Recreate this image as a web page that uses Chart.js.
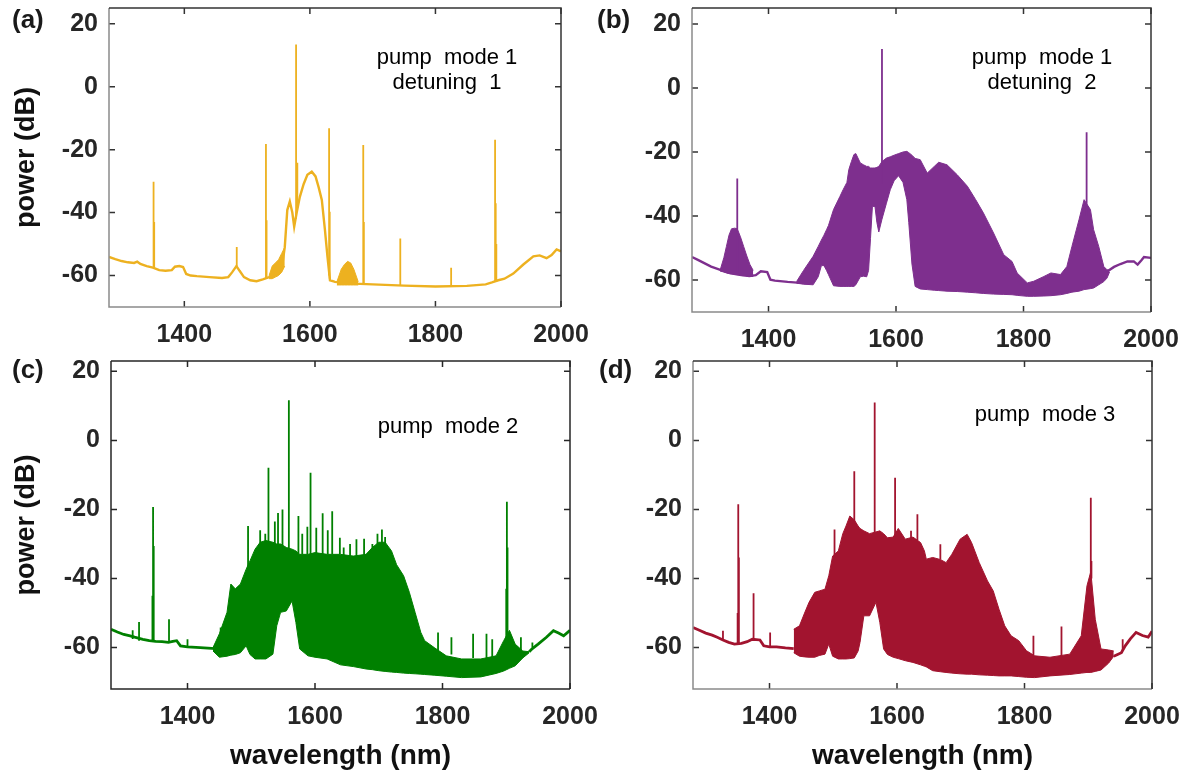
<!DOCTYPE html>
<html lang="en">
<head>
<meta charset="utf-8">
<title>Comb spectra</title>
<script src="https://cdn.jsdelivr.net/npm/chart.js@4.4.1/dist/chart.umd.min.js"></script>
<style>
  html, body { margin: 0; padding: 0; background: #ffffff; }
  body { position: relative; width: 1191px; height: 773px; overflow: hidden;
         font-family: "Liberation Sans", Arial, sans-serif; }
  canvas { position: absolute; }
  .tag { position: absolute; font-size: 26px; font-weight: bold; color: #1a1a1a; line-height: 26px; }
  .note { position: absolute; width: 220px; font-size: 22px; color: #000000; line-height: 25px;
          text-align: center; white-space: pre; }
</style>
</head>
<body>
<canvas id="chartA" width="595" height="360" style="left:0;top:0"></canvas>
<canvas id="chartB" width="596" height="360" style="left:595px;top:0"></canvas>
<canvas id="chartC" width="605" height="413" style="left:0;top:360px"></canvas>
<canvas id="chartD" width="586" height="413" style="left:605px;top:360px"></canvas>

<div class="tag" style="left:12px;top:6px">(a)</div>
<div class="tag" style="left:597px;top:6px">(b)</div>
<div class="tag" style="left:12px;top:356px">(c)</div>
<div class="tag" style="left:599px;top:356px">(d)</div>

<div class="note" style="left:337px;top:44px">pump  mode 1
detuning  1</div>
<div class="note" style="left:932px;top:44px">pump  mode 1
detuning  2</div>
<div class="note" style="left:338px;top:413px">pump  mode 2</div>
<div class="note" style="left:935px;top:401px">pump  mode 3</div>

<script>
// Shared axis ticks and wavelength span (nm)
const X_TICKS = [1400, 1600, 1800, 2000];
const Y_TICKS = [20, 0, -20, -40, -60];
const X_RANGE = [1280, 2000];

// ---------- (a) pump mode 1, detuning 1 ----------
// noise floor and continuum, [wavelength, dB]
const floorA = [
  [1280,-54.1],[1290,-54.8],[1300,-55.4],[1310,-55.8],[1320,-56.0],[1325,-55.6],[1330,-56.3],
  [1340,-57.0],[1350,-57.5],[1360,-58.3],[1370,-58.5],[1380,-58.3],[1385,-57.2],[1392,-57.0],
  [1398,-57.3],[1403,-59.5],[1410,-60.0],[1420,-60.2],[1440,-60.5],[1460,-60.8],[1470,-60.5],
  [1476,-59.0],[1483,-57.0],[1488,-58.5],[1495,-60.5],[1505,-61.5],[1515,-61.8],[1525,-61.2],
  [1535,-60.5],[1545,-59.5],[1555,-58.0],[1560,-51.0],[1564,-39.2],[1568,-36.5],[1572,-40.0],
  [1575,-44.5],[1579,-40.0],[1584,-35.0],[1590,-31.0],[1596,-28.0],[1603,-27.0],[1609,-28.5],
  [1614,-32.0],[1619,-36.0],[1624,-45.6],[1628,-54.0],[1632,-61.5],[1640,-62.0],[1660,-62.5],
  [1700,-62.8],[1750,-63.2],[1800,-63.5],[1850,-63.3],[1880,-62.8],[1890,-62.2],[1900,-61.5],
  [1910,-61.0],[1924,-59.4],[1940,-56.5],[1956,-53.9],[1966,-53.6],[1977,-54.5],[1985,-53.5],
  [1993,-51.7],[2000,-52.3]
];
// comb bands, [wavelength, upper dB, lower dB]
const combA1 = [[1535,-60,-61],[1540,-57,-61],[1545,-56,-60.5],[1550,-55,-60],[1555,-53,-59],[1560,-51,-57]];
const combA2 = [[1643,-62,-63],[1650,-58,-63],[1655,-56.5,-63],[1660,-55.5,-63],[1665,-56,-63],[1670,-58,-63],[1677,-62,-63]];
// discrete lines, [wavelength, peak dB, base dB]
const spikesA = [
  [1351,-30.2,-57.5],[1352,-43,-57.5],[1483.5,-50.9,-57],[1530,-18.2,-61],[1531,-42.4,-61],
  [1578,13.4,-42],[1580,-24.2,-38],[1630.6,-13.2,-60],[1631.6,-39.7,-61],[1685,-18.5,-62.5],
  [1686,-43,-62.5],[1744,-48.2,-63],[1825,-57.5,-63.5],[1895,-16.9,-62],[1896,-37,-62],[1897,-50,-62]
];

// ---------- (b) pump mode 1, detuning 2 ----------
const floorB1 = [
  [1280,-52.8],[1290,-53.8],[1300,-54.8],[1310,-55.8],[1320,-56.5],[1330,-57.2],[1340,-57.8],
  [1350,-58.2],[1360,-58.5],[1370,-58.8],[1380,-58.5],[1388,-57.3],[1398,-57.5],[1403,-59.9],
  [1410,-60.2],[1430,-60.6],[1450,-60.9],[1465,-61.0]
];
const floorB2 = [
  [1930,-57.5],[1942,-55.9],[1952,-55.0],[1963,-54.2],[1973,-54.2],[1979,-55.2],[1985,-53.8],
  [1989,-52.8],[2000,-53.1]
];
const combB1 = [
  [1324,-57,-57.2],[1330,-53,-57.5],[1334,-49.5,-57.8],[1338,-46,-58],[1342,-44,-58.1],
  [1347,-43.8,-58.2],[1351,-44,-58.3],[1356,-46.5,-58.4],[1361,-49.5,-58.5],[1366,-52.5,-58.7],
  [1371,-55.2,-58.8],[1376,-57,-58.9]
];
const combB2 = [
  [1444,-60.5,-61],[1455,-57,-61.3],[1470,-52.6,-61.5],[1478,-49.5,-59],[1483,-47.5,-55.5],
  [1487,-46,-55.5],[1491,-44.3,-57],[1494,-43,-58.3],[1502,-38,-61.8],[1512,-33.9,-62],
  [1517,-31.8,-62],[1523,-29.5,-62],[1526,-25.5,-62],[1530,-23,-62],[1534,-20.8,-62],
  [1537,-20.5,-61.5],[1544,-23.4,-59],[1549,-24,-58.8],[1554,-24.5,-59],[1557,-24.5,-57],
  [1560,-25,-47],[1563,-25,-37],[1567,-25,-37],[1570,-24.8,-42],[1573,-24.5,-45],
  [1578,-23,-41],[1585,-21.9,-36],[1591,-21.5,-31.8],[1597,-21,-29],[1604,-20.5,-27.4],
  [1611,-20,-29.5],[1617,-19.8,-34.9],[1620,-20.2,-42],[1625,-21,-55],[1630,-22,-62],
  [1638,-22.4,-62.8],[1649,-26.6,-63],[1660,-24.5,-63.2],[1667,-23.2,-63.3],[1680,-24,-63.5],
  [1696,-27.1,-63.6],[1712,-30.7,-63.8],[1725,-34.9,-64],[1737,-39,-64.2],[1753,-45.3,-64.4],
  [1769,-52.1,-64.5],[1782,-54.2,-64.6],[1790,-57.8,-64.8],[1806,-60.9,-65.1],[1816,-60.4,-65.1],
  [1832,-58.9,-65],[1843,-57.8,-64.9],[1858,-58.3,-64.6],[1868,-55.8,-64.2],[1876,-49.5,-63.8],
  [1887,-41.2,-63.5],[1895,-34.9,-63],[1905,-38,-62.7],[1910,-44.3,-62.5],[1918,-49.5,-61.5],
  [1926,-55.8,-60.5],[1931,-56.8,-59.4],[1935,-57,-57.5]
];
const spikesB = [[1351,-28.3,-58],[1578,12.2,-30],[1899,-13.8,-40]];

// ---------- (c) pump mode 2 ----------
const floorC1 = [
  [1280,-54.7],[1290,-55.5],[1300,-56.2],[1310,-56.6],[1317,-57],[1330,-57.6],[1340,-58],
  [1350,-58.2],[1360,-58.3],[1370,-58.5],[1377,-58.2],[1383,-58],[1389,-59.5],[1400,-59.8],
  [1420,-60],[1444,-60.3]
];
const floorC2 = [
  [1936,-61.2],[1941,-60.3],[1950,-59],[1963,-57],[1974,-55.1],[1982,-55.8],[1990,-56.6],[2000,-55]
];
const combC = [
  [1440,-60,-61],[1450,-56,-62.8],[1462,-49.8,-62.5],[1468,-41.6,-62.2],[1475,-43,-62],
  [1483,-41.6,-61.5],[1492,-37.3,-59.5],[1498,-34.9,-62],[1506,-31.5,-63.3],[1514,-29.5,-63.3],
  [1523,-29,-63.3],[1534,-29.5,-61.9],[1540,-30,-53.7],[1546,-30,-49.8],[1555,-31,-49.4],
  [1564,-31.5,-46.5],[1570,-32,-52.7],[1576,-33,-60.4],[1589,-33,-62.4],[1600,-32.5,-62.8],
  [1619,-33,-63.3],[1640,-33,-65],[1660,-33.5,-65.5],[1680,-33,-66.2],[1690,-31,-66.4],
  [1700,-29.5,-66.7],[1710,-29.5,-66.9],[1720,-32,-67.1],[1728,-36,-67.2],[1739,-39.2,-67.4],
  [1748,-44,-67.5],[1757,-49.8,-67.6],[1766,-55.6,-67.7],[1772,-58,-67.8],[1787,-60,-68],
  [1806,-62.4,-68.3],[1830,-63.3,-68.7],[1860,-63.3,-68.5],[1884,-62.4,-67.5],[1896,-58,-66.8],
  [1905,-55,-66],[1914,-59,-65.3],[1926,-61,-63],[1936,-61.2,-61.5]
];
const spikesC = [
  [1314,-55,-57.5],[1324,-52.6,-58],[1345,-45,-58],[1346,-19.3,-58],[1347,-30.6,-58],
  [1371,-51.8,-58.5],[1400,-57.6,-60],[1452,-54.2,-60],[1495,-24.8,-40],[1514,-26,-32],
  [1522,-27,-32],[1527,-7.9,-32],[1537,-23.5,-32],[1542,-21,-32],[1549,-20,-32],[1559,11.6,-32],
  [1574,-21.9,-33],[1580,-27,-33],[1588,-25,-33],[1593,-9.4,-33],[1602,-25.3,-33],
  [1612,-21.1,-33],[1620,-26,-33],[1627,-20.5,-33],[1639,-28.2,-33],[1645,-31,-34],
  [1655,-30,-34],[1665,-28.6,-34],[1677,-28.5,-34],[1690,-30,-32],[1698,-27,-31],
  [1705,-25.8,-30],[1710,-28,-30],[1793,-55.6,-61],[1814,-57,-62],[1848,-56,-63],
  [1869,-56,-63],[1878,-57.6,-63],[1900,-43,-58],[1901,-17.8,-58],[1902,-31,-58],
  [1923,-57,-61],[1941,-58.5,-60]
];

// ---------- (d) pump mode 3 ----------
const floorD1 = [
  [1280,-54.2],[1290,-55],[1300,-55.8],[1310,-56.4],[1318,-57],[1327,-57.8],[1336,-58.5],
  [1345,-59],[1356,-58.8],[1365,-58.3],[1373,-57.6],[1385,-57.8],[1391,-59.5],[1400,-59.8],
  [1411,-59.8],[1425,-60.1],[1438,-60.3]
];
const floorD2 = [
  [1940,-62.5],[1946,-62],[1952,-61.5],[1958,-59.5],[1966,-57.5],[1975,-55.6],[1985,-56.5],
  [1994,-57],[2000,-55.3]
];
const combD = [
  [1438,-54.7,-61.5],[1447,-53.7,-62.5],[1455,-50,-62.7],[1462,-46.9,-62.8],[1471,-44,-62.8],
  [1478,-43.6,-62.3],[1487,-43.1,-61.9],[1493,-39.2,-59],[1499,-33.5,-62.5],[1508,-32,-63.3],
  [1515,-27,-63.3],[1520,-24.8,-63.3],[1526,-21.9,-63.2],[1533,-23,-63],[1539,-24.8,-61],
  [1542,-25.5,-58.5],[1548,-26.2,-50.8],[1557,-27,-50.8],[1567,-26.5,-46.9],[1573,-26.2,-52.7],
  [1579,-27,-60.4],[1585,-28.2,-62],[1594,-28,-62.8],[1602,-25.5,-63.2],[1613,-28.6,-63.8],
  [1625,-28,-64.3],[1637,-29.6,-65],[1643,-32,-65.4],[1646,-34.4,-65.6],[1656,-33.9,-66.7],
  [1668,-34.5,-67],[1677,-35.4,-67.2],[1686,-33,-67.4],[1699,-28.6,-67.6],[1710,-27.2,-67.7],
  [1717,-29.6,-67.7],[1729,-35.4,-67.9],[1742,-40.7,-68],[1751,-43.6,-68.1],[1760,-48.9,-68.2],
  [1769,-53.7,-68.2],[1779,-56.6,-68.2],[1791,-58,-68.4],[1803,-60.9,-68.6],[1816,-62.4,-68.7],
  [1840,-62.8,-68.2],[1871,-61.9,-67.8],[1889,-56.6,-67.4],[1898,-42.1,-67.2],[1904,-38,-67.2],
  [1911,-51.8,-66.9],[1920,-60.4,-66.5],[1932,-60.7,-64.5],[1940,-61,-62.5]
];
const spikesD = [
  [1327,-55.1,-57.8],[1350,-50,-59],[1351,-18.5,-59],[1352,-33.9,-59],[1375,-44.3,-57.6],
  [1401,-55.6,-59.8],[1502,-25.8,-34],[1533,-8.9,-24],[1565,11,-27],[1597,-10.8,-28],
  [1622,-26.2,-29],[1632,-21.4,-29],[1668,-30.1,-34.5],[1814,-56.6,-62.4],[1858,-53.9,-62.5],
  [1904,-16.6,-40],[1905,-34.9,-40],[1954,-57.6,-61]
];

// ---------- styling ----------
const COLOR_A = '#EDB120';
const COLOR_B = '#7E2F8E';
const COLOR_C = '#008000';
const COLOR_D = '#A2142F';
const FONT_FAMILY = "'Liberation Sans', Arial, sans-serif";
const TEXT_COLOR = '#262626';

function trace(rows, color, width) {
  return { data: rows.map(r => ({ x: r[0], y: r[1] })), borderColor: color, borderWidth: width,
           pointRadius: 0, fill: false, spanGaps: false };
}
function band(rows, color) {
  return [
    { data: rows.map(r => ({ x: r[0], y: r[1] })), borderColor: color, backgroundColor: color,
      borderWidth: 1, pointRadius: 0, fill: '+1' },
    { data: rows.map(r => ({ x: r[0], y: r[2] })), borderColor: color,
      borderWidth: 1, pointRadius: 0, fill: false }
  ];
}
function lines(rows, color, width) {
  const d = [];
  rows.forEach(r => { d.push({ x: r[0], y: r[2] }, { x: r[0], y: r[1] }, { x: r[0], y: null }); });
  return { data: d, borderColor: color, borderWidth: width, pointRadius: 0, fill: false, spanGaps: false };
}

// Box around the plot area with inward ticks on all four sides
const frame = {
  id: 'frame',
  afterDraw(chart, args, o) {
    const { ctx, chartArea: a, scales: { x, y } } = chart;
    const t = 6;
    ctx.save();
    ctx.lineWidth = 1.5;
    ctx.strokeStyle = o.tickColor;
    ctx.beginPath();
    X_TICKS.forEach(v => {
      const p = x.getPixelForValue(v);
      ctx.moveTo(p, a.bottom); ctx.lineTo(p, a.bottom - t);
      ctx.moveTo(p, a.top); ctx.lineTo(p, a.top + t);
    });
    Y_TICKS.forEach(v => {
      const p = y.getPixelForValue(v);
      ctx.moveTo(a.left, p); ctx.lineTo(a.left + t, p);
      ctx.moveTo(a.right, p); ctx.lineTo(a.right - t, p);
    });
    ctx.stroke();
    ctx.strokeStyle = o.lb;
    ctx.beginPath();
    ctx.moveTo(a.left, a.top); ctx.lineTo(a.left, a.bottom); ctx.lineTo(a.right, a.bottom);
    ctx.stroke();
    ctx.strokeStyle = o.tr;
    ctx.beginPath();
    ctx.moveTo(a.left, a.top); ctx.lineTo(a.right, a.top); ctx.lineTo(a.right, a.bottom);
    ctx.stroke();
    ctx.restore();
  }
};

function makeChart(id, g, datasets) {
  return new Chart(document.getElementById(id), {
    type: 'line',
    data: { datasets },
    options: {
      responsive: false, animation: false, devicePixelRatio: 1,
      layout: { padding: { left: 0, top: g.padTop, right: g.padRight, bottom: 0 } },
      elements: { line: { tension: 0 }, point: { radius: 0 } },
      plugins: {
        legend: { display: false }, tooltip: { enabled: false },
        frame: { lb: g.lb, tr: g.tr, tickColor: g.tr }
      },
      scales: {
        x: {
          type: 'linear', position: 'bottom', min: X_RANGE[0], max: X_RANGE[1],
          afterBuildTicks: s => { s.ticks = X_TICKS.map(v => ({ value: v })); },
          afterFit: s => { s.height = g.xh; s.paddingLeft = 0; s.paddingRight = 0; },
          grid: { display: false, drawTicks: false }, border: { display: false },
          ticks: { font: { family: FONT_FAMILY, size: 25, weight: 'bold' }, color: TEXT_COLOR,
                   padding: 13, maxRotation: 0, autoSkip: false, callback: v => String(v) },
          title: { display: g.xTitle, text: 'wavelength (nm)', color: '#111111',
                   font: { family: FONT_FAMILY, size: 28, weight: 'bold' }, padding: { top: 0, bottom: 0 } }
        },
        y: {
          type: 'linear', position: 'left', min: g.yMin, max: g.yMax,
          afterBuildTicks: s => { s.ticks = Y_TICKS.map(v => ({ value: v })); },
          afterFit: s => { s.width = g.yw; s.paddingTop = 0; s.paddingBottom = 0; },
          grid: { display: false, drawTicks: false }, border: { display: false },
          ticks: { font: { family: FONT_FAMILY, size: 25, weight: 'bold' }, color: TEXT_COLOR,
                   padding: 11, autoSkip: false, callback: v => String(v) },
          title: { display: g.yTitle, text: 'power (dB)', color: '#111111',
                   font: { family: FONT_FAMILY, size: 27, weight: 'bold' }, padding: { top: 10, bottom: 0 } }
        }
      }
    },
    plugins: [frame]
  });
}

makeChart('chartA',
  { yMin: -70, yMax: 25, padTop: 8, padRight: 34, yw: 109, xh: 53, yTitle: true, xTitle: false,
    lb: '#8a8a8a', tr: '#333333' },
  [ lines(spikesA, COLOR_A, 1.8), ...band(combA1, COLOR_A), ...band(combA2, COLOR_A),
    trace(floorA, COLOR_A, 2.4) ]);

makeChart('chartB',
  { yMin: -70, yMax: 25, padTop: 8, padRight: 40, yw: 97, xh: 48, yTitle: false, xTitle: false,
    lb: '#8a8a8a', tr: '#333333' },
  [ lines(spikesB, COLOR_B, 1.8), ...band(combB1, COLOR_B), ...band(combB2, COLOR_B),
    trace(floorB1, COLOR_B, 2.4), trace(floorB2, COLOR_B, 2.4) ]);

makeChart('chartC',
  { yMin: -72, yMax: 23, padTop: 1, padRight: 35, yw: 111, xh: 84, yTitle: true, xTitle: true,
    lb: '#262626', tr: '#262626' },
  [ lines(spikesC, COLOR_C, 1.8), ...band(combC, COLOR_C),
    trace(floorC1, COLOR_C, 2.8), trace(floorC2, COLOR_C, 2.8) ]);

makeChart('chartD',
  { yMin: -72, yMax: 23, padTop: 1, padRight: 39, yw: 88, xh: 84, yTitle: false, xTitle: true,
    lb: '#8a8a8a', tr: '#333333' },
  [ lines(spikesD, COLOR_D, 1.8), ...band(combD, COLOR_D),
    trace(floorD1, COLOR_D, 2.8), trace(floorD2, COLOR_D, 2.8) ]);
</script>
</body>
</html>
